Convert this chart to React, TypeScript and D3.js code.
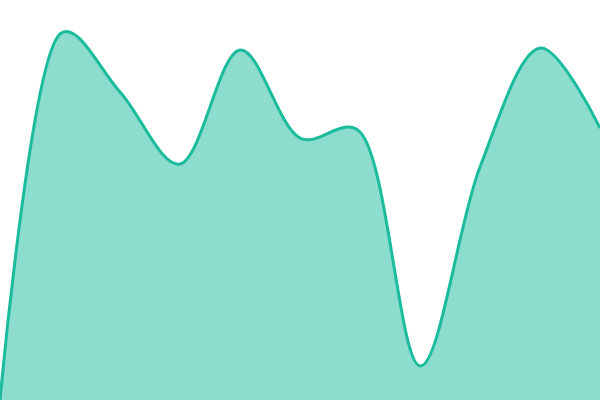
import * as d3 from 'd3';
import { useEffect, useRef } from 'react';

const indices = [0, 1, 2, 3, 4, 5, 6, 7, 8, 9, 10];
const values = [0, 366, 308, 236, 350, 262, 268, 34, 233, 352, 272];

const App = () => {
  const svgRef = useRef<SVGSVGElement | null>(null);

  useEffect(() => {
    const width = 600;
    const height = 400;

    const x = d3.scaleLinear().domain([0, 10]).range([0, width]);
    const y = d3.scaleLinear().domain([0, 400]).range([height, 0]);

    const data = indices.map((i) => ({ i, v: values[i] }));

    const curve = d3.curveCatmullRom.alpha(0.35);

    const area = d3
      .area<{ i: number; v: number }>()
      .x((d) => x(d.i))
      .y0(height)
      .y1((d) => y(d.v))
      .curve(curve);

    const line = d3
      .line<{ i: number; v: number }>()
      .x((d) => x(d.i))
      .y((d) => y(d.v))
      .curve(curve);

    const svg = d3.select(svgRef.current)
      .attr('width', width)
      .attr('height', height);

    svg.selectAll('*').remove();

    svg.append('path')
      .datum(data)
      .attr('fill', '#1abc9c')
      .attr('fill-opacity', 0.5)
      .attr('d', area);

    svg.append('path')
      .datum(data)
      .attr('fill', 'none')
      .attr('stroke', '#1abc9c')
      .attr('stroke-width', 3)
      .attr('d', line);
  }, []);

  return (
    <svg
      ref={svgRef}
      style={{ position: 'fixed', top: 0, left: 0, display: 'block', overflow: 'hidden' }}
    ></svg>
  );
};

export default App;
